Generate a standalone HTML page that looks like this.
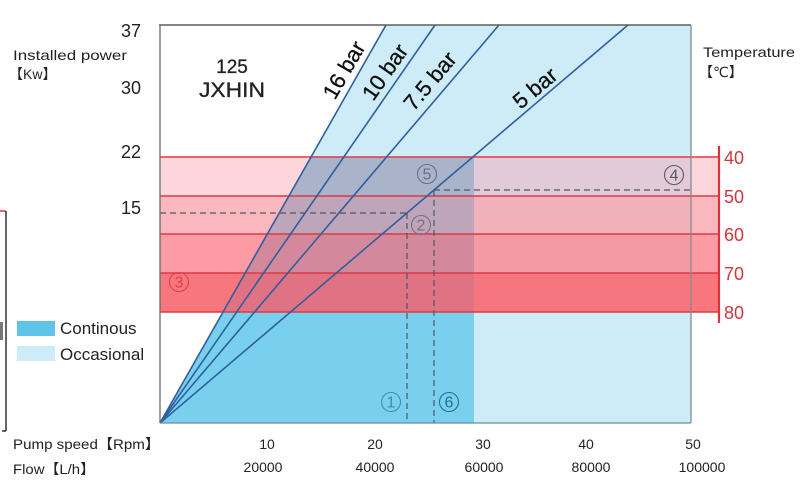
<!DOCTYPE html>
<html><head><meta charset="utf-8"><style>
html,body{margin:0;padding:0;background:#fff;}
svg{display:block;}
text{font-family:"Liberation Sans","DejaVu Sans","Noto Sans CJK SC",sans-serif;}
</style></head><body>
<svg width="800" height="500" viewBox="0 0 800 500" xmlns="http://www.w3.org/2000/svg">
<defs>
<clipPath id="occ"><polygon points="160,423 386,25 691,25 691,423"/></clipPath>
<clipPath id="cont"><polygon points="160,423 311,157 474,157 474,423"/></clipPath>
</defs>
<rect width="800" height="500" fill="#fff"/>
<polygon points="160,423 386,25 691,25 691,423" fill="#cdecf7"/>
<polygon points="160,423 311,157 474,157 474,423" fill="#79d0ee"/>
<rect x="160" y="157" width="559" height="39" fill="#fdd6db"/>
<rect x="160" y="196" width="559" height="38" fill="#fab7be"/>
<rect x="160" y="234" width="559" height="39" fill="#fc9ba3"/>
<rect x="160" y="273" width="559" height="39" fill="#f8777f"/>
<g clip-path="url(#occ)">
<rect x="160" y="157" width="559" height="39" fill="#e3cad9"/>
<rect x="160" y="196" width="559" height="38" fill="#f1b1bb"/>
<rect x="160" y="234" width="559" height="39" fill="#f49aa4"/>
<rect x="160" y="273" width="559" height="39" fill="#f5767f"/>
</g>
<g clip-path="url(#cont)">
<rect x="160" y="157" width="559" height="39" fill="#a9b4ca"/>
<rect x="160" y="196" width="559" height="38" fill="#bfa5b9"/>
<rect x="160" y="234" width="559" height="39" fill="#d3899b"/>
<rect x="160" y="273" width="559" height="39" fill="#df7283"/>
</g>
<g stroke="#dd3a44" stroke-width="1.5">
<line x1="160" y1="157" x2="719" y2="157"/>
<line x1="160" y1="196" x2="719" y2="196"/>
<line x1="160" y1="234" x2="719" y2="234"/>
<line x1="160" y1="273" x2="719" y2="273"/>
<line x1="160" y1="312" x2="719" y2="312"/>
</g>
<line x1="719" y1="146" x2="719" y2="323" stroke="#d9343c" stroke-width="2.2"/>
<g stroke="#2f5f9f" stroke-width="1.6" fill="none">
<line x1="160" y1="423" x2="386" y2="25"/>
<line x1="160" y1="423" x2="435" y2="25"/>
<line x1="160" y1="423" x2="499" y2="25"/>
<line x1="160" y1="423" x2="628" y2="25"/>
</g>
<g stroke="#4f5563" stroke-width="1.2" stroke-dasharray="6,4" fill="none">
<line x1="160" y1="213" x2="407" y2="213"/>
<line x1="407" y1="213" x2="407" y2="423"/>
<line x1="434" y1="190" x2="691" y2="190"/>
<line x1="434" y1="190" x2="434" y2="423"/>
</g>
<line x1="159" y1="25" x2="691" y2="25" stroke="#5e5e5e" stroke-width="1.5"/>
<line x1="160" y1="25" x2="160" y2="423" stroke="#6a6a6a" stroke-width="1.3"/>
<line x1="691" y1="25" x2="691" y2="423" stroke="#8a8a8a" stroke-width="1.3"/>
<line x1="160" y1="423" x2="691" y2="423" stroke="#6b8ca3" stroke-width="1.3"/>
<g font-size="22" fill="#111" stroke="#111" stroke-width="0.3" text-anchor="middle" dominant-baseline="central">
<text x="344" y="70" transform="rotate(-60 344 70)">16 bar</text>
<text x="385" y="72" transform="rotate(-55 385 72)">10 bar</text>
<text x="430" y="81" transform="rotate(-50 430 81)">7.5 bar</text>
<text x="535" y="88" transform="rotate(-40 535 88)">5 bar</text>
</g>
<text x="232" y="73" font-size="19" fill="#222" stroke="#222" stroke-width="0.3" text-anchor="middle">125</text>
<text x="232" y="97" font-size="21" fill="#222" stroke="#222" stroke-width="0.3" text-anchor="middle" textLength="66" lengthAdjust="spacingAndGlyphs">JXHIN</text>
<g font-size="18" fill="#222" text-anchor="end">
<text x="141" y="37">37</text>
<text x="141" y="94">30</text>
<text x="141" y="158">22</text>
<text x="141" y="214">15</text>
</g>
<text x="13" y="60" font-size="14" fill="#222" textLength="114" lengthAdjust="spacingAndGlyphs">Installed power</text>
<text x="9" y="79" font-size="14" fill="#222" font-family="Liberation Sans, Noto Sans CJK SC, sans-serif">【Kw】</text>
<text x="703" y="57" font-size="14" fill="#222" textLength="92" lengthAdjust="spacingAndGlyphs">Temperature</text>
<text x="699" y="77" font-size="14" fill="#222" font-family="Liberation Sans, Noto Sans CJK SC, sans-serif">【℃】</text>
<g font-size="18" fill="#d0363c">
<text x="724" y="164">40</text>
<text x="724" y="203">50</text>
<text x="724" y="241">60</text>
<text x="724" y="280">70</text>
<text x="724" y="319">80</text>
</g>
<text x="13" y="449" font-size="14" fill="#222" textLength="147" lengthAdjust="spacingAndGlyphs" font-family="Liberation Sans, Noto Sans CJK SC, sans-serif">Pump speed【Rpm】</text>
<text x="13" y="474" font-size="14" fill="#222" textLength="82" lengthAdjust="spacingAndGlyphs" font-family="Liberation Sans, Noto Sans CJK SC, sans-serif">Flow【L/h】</text>
<g font-size="14" fill="#222" text-anchor="middle">
<text x="267" y="449">10</text>
<text x="375" y="449">20</text>
<text x="483" y="449">30</text>
<text x="586" y="449">40</text>
<text x="693" y="449">50</text>
<text x="263" y="472">20000</text>
<text x="375" y="472">40000</text>
<text x="484" y="472">60000</text>
<text x="591" y="472">80000</text>
<text x="702" y="472">100000</text>
</g>
<rect x="17" y="321" width="38" height="15" fill="#5fc4e8"/>
<rect x="17" y="346" width="38" height="15" fill="#cdecf7"/>
<text x="60" y="334" font-size="17" fill="#222">Continous</text>
<text x="60" y="360" font-size="17" fill="#222">Occasional</text>
<g fill="none" stroke-width="1.1">
<circle cx="391" cy="402" r="9.5" stroke="#3a8fb0"/>
<circle cx="449" cy="402" r="9.5" stroke="#1f6f90"/>
<circle cx="421" cy="225" r="9.5" stroke="#7a6f80"/>
<circle cx="427" cy="174" r="9.5" stroke="#6a7080"/>
<circle cx="674" cy="175" r="9.5" stroke="#5a5a66"/>
<circle cx="179" cy="282" r="9.5" stroke="#e0404a"/>
</g>
<g font-size="16" text-anchor="middle" dominant-baseline="central">
<text x="391" y="403" fill="#3a8fb0">1</text>
<text x="449" y="403" fill="#1f6f90">6</text>
<text x="421" y="226" fill="#7a6f80">2</text>
<text x="427" y="175" fill="#6a7080">5</text>
<text x="674" y="176" fill="#5a5a66">4</text>
<text x="179" y="283" fill="#e0404a">3</text>
</g>
<line x1="0" y1="211" x2="6" y2="211" stroke="#d9343c" stroke-width="1.5"/>
<line x1="6" y1="211" x2="6" y2="431" stroke="#333" stroke-width="1.5"/>
<line x1="2" y1="431" x2="6" y2="431" stroke="#333" stroke-width="1.5"/>
<rect x="0" y="322" width="3" height="18" fill="#777"/>
</svg>
</body></html>
